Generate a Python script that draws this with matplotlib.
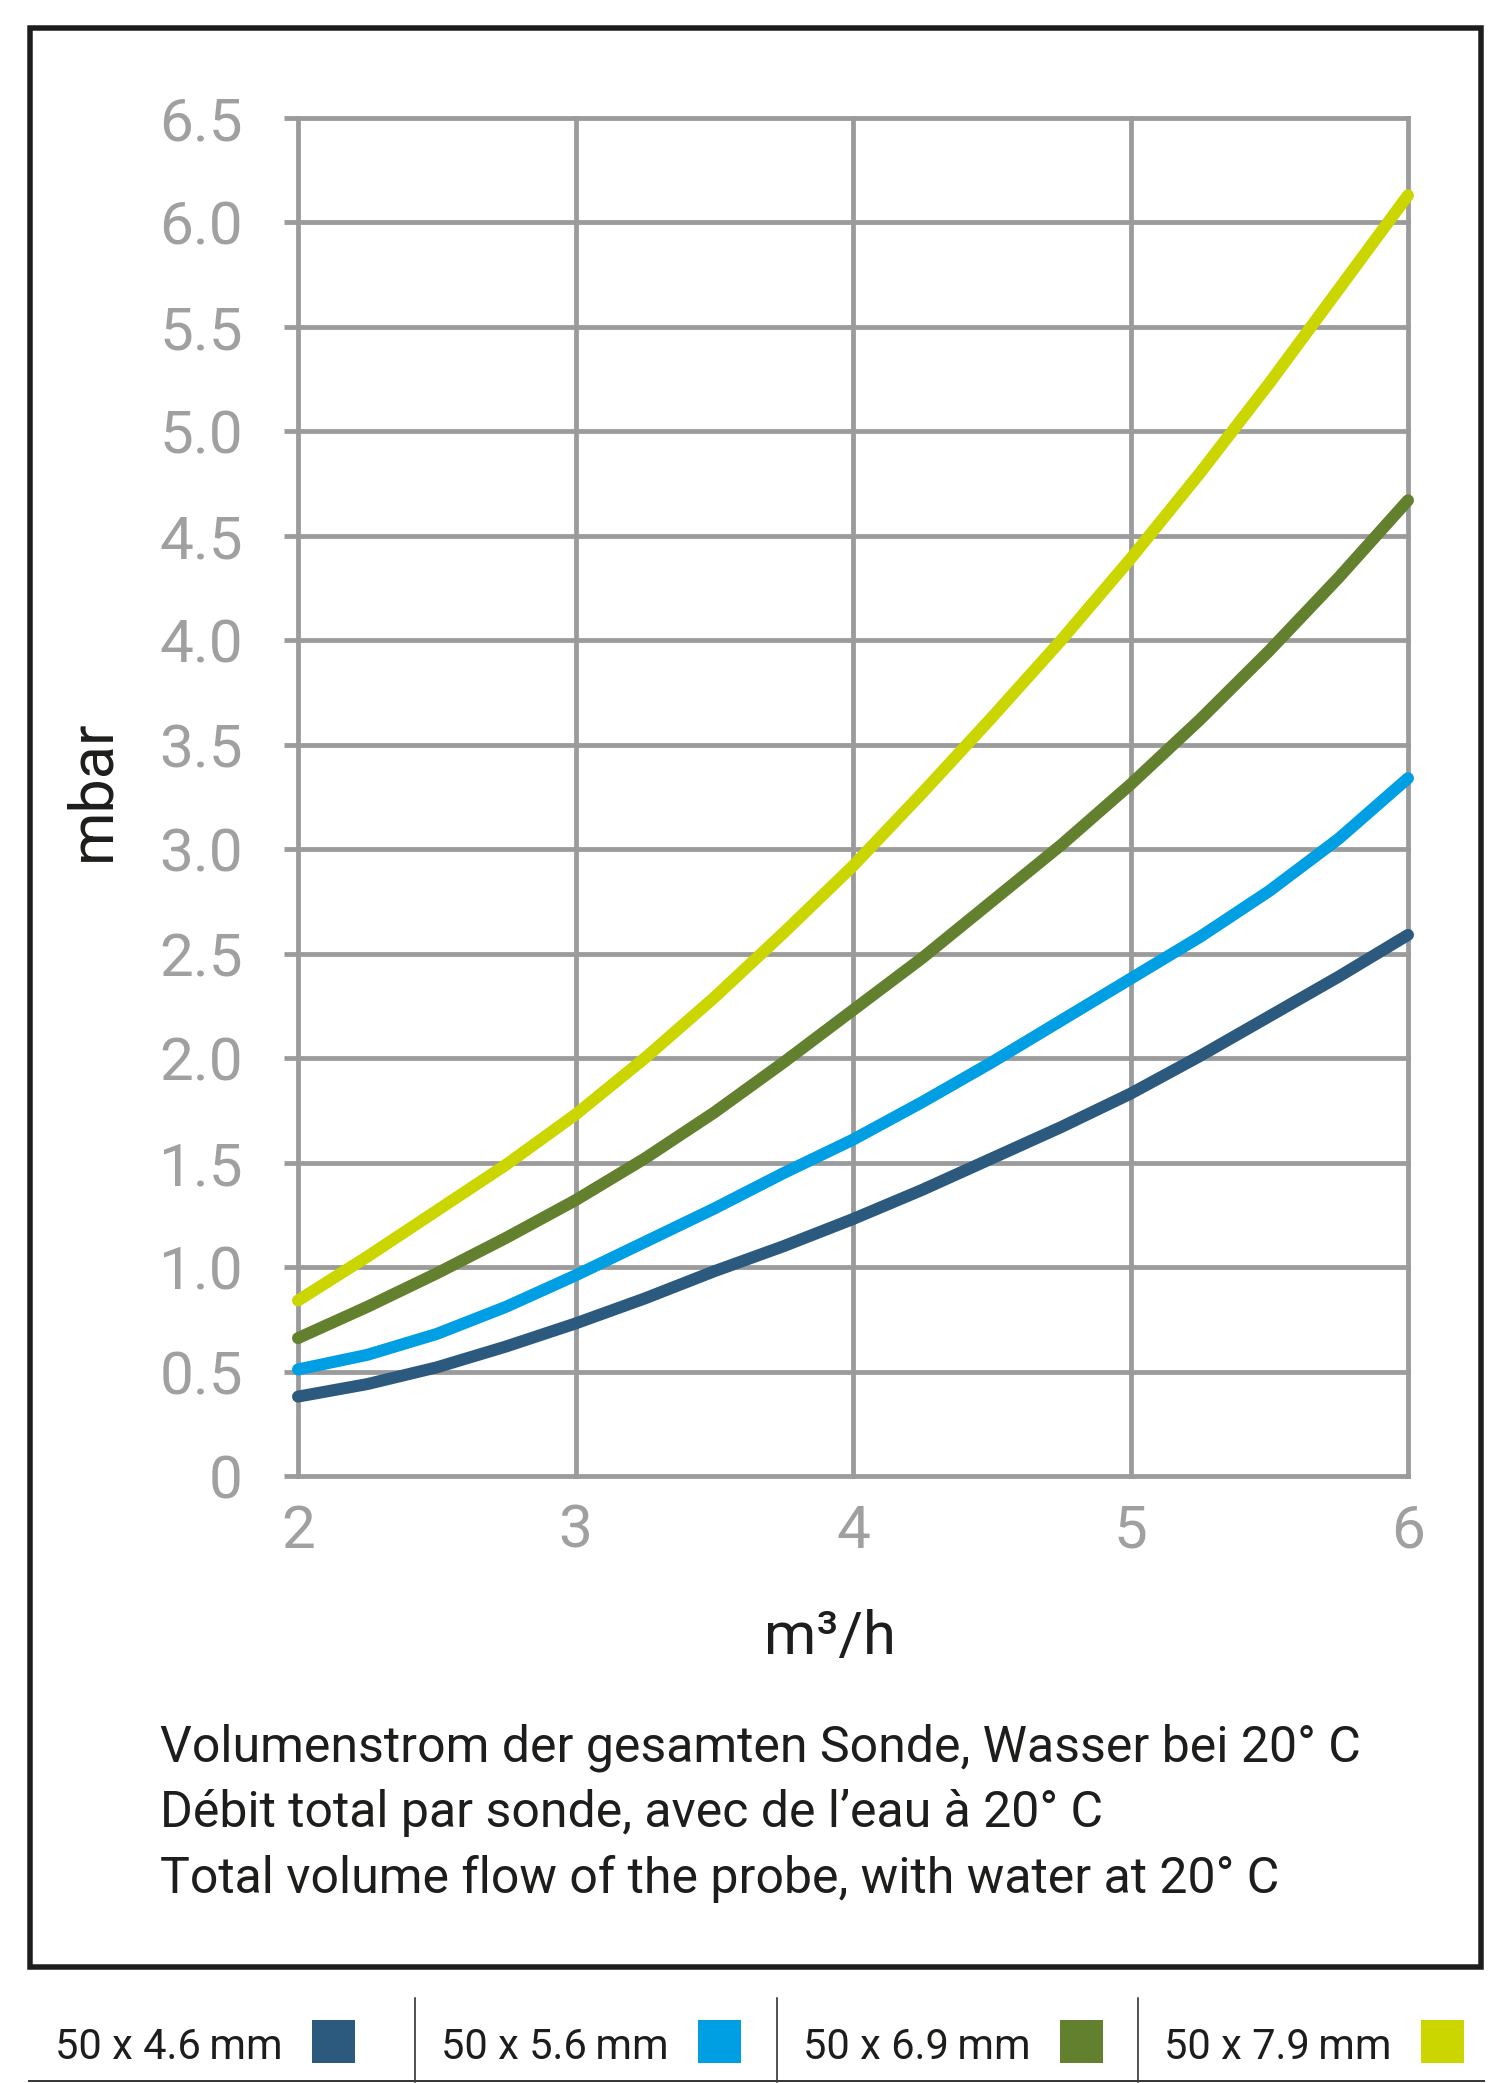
import matplotlib
matplotlib.use("Agg")
import matplotlib.pyplot as plt
from matplotlib.patches import Rectangle
from matplotlib.lines import Line2D

# ---------------- data ----------------
flow = [2.0, 2.25, 2.5, 2.75, 3.0, 3.25, 3.5, 3.75, 4.0,
        4.25, 4.5, 4.75, 5.0, 5.25, 5.5, 5.75, 6.0]
p_50x46 = [0.38, 0.44, 0.52, 0.62, 0.73, 0.85, 0.98, 1.10, 1.23,
           1.37, 1.52, 1.67, 1.83, 2.01, 2.20, 2.39, 2.59]
p_50x56 = [0.51, 0.58, 0.68, 0.81, 0.96, 1.12, 1.28, 1.45, 1.61,
           1.79, 1.98, 2.18, 2.38, 2.58, 2.80, 3.05, 3.34]
p_50x69 = [0.66, 0.81, 0.97, 1.14, 1.32, 1.52, 1.74, 1.98, 2.23,
           2.48, 2.75, 3.02, 3.31, 3.62, 3.95, 4.30, 4.67]
p_50x79 = [0.84, 1.05, 1.27, 1.49, 1.73, 2.00, 2.29, 2.60, 2.92,
           3.27, 3.63, 4.00, 4.39, 4.80, 5.23, 5.68, 6.13]

series_values = [p_50x46, p_50x56, p_50x69, p_50x79]
series_labels = ["50 x 4.6\u2009mm", "50 x 5.6\u2009mm", "50 x 6.9\u2009mm", "50 x 7.9\u2009mm"]
series_colors = ["#2b5a7e", "#009fe3", "#62802e", "#cbd500"]

x_ticks = [2, 3, 4, 5, 6]
x_tick_labels = ["2", "3", "4", "5", "6"]
y_ticks = [0, 0.5, 1.0, 1.5, 2.0, 2.5, 3.0, 3.5, 4.0, 4.5, 5.0, 5.5, 6.0, 6.5]
y_tick_labels = ["0", "0.5", "1.0", "1.5", "2.0", "2.5", "3.0", "3.5",
                 "4.0", "4.5", "5.0", "5.5", "6.0", "6.5"]
y_label = "mbar"
x_label = "m³/h"
caption_lines = [
    "Volumenstrom der gesamten Sonde, Wasser bei 20° C",
    "Débit total par sonde, avec de l’eau à 20° C",
    "Total volume flow of the probe, with water at 20° C",
]

# ---------------- style ----------------
plt.rcParams['font.family'] = ['Roboto', 'DejaVu Sans']
BLACK = "#1d1d1b"
GRID = "#9b9b9b"
TICK = "#a0a0a0"

W, H, DPI = 1512, 2083, 100
PX = 72.0 / DPI  # points per pixel


def fx(x):
    return x / W


def fy(y):
    return 1 - y / H


fig = plt.figure(figsize=(W / DPI, H / DPI), dpi=DPI)
fig.patch.set_facecolor("white")

# plot area (pixel box: x 298..1408, y 118..1476)
ax = fig.add_axes([fx(298), fy(1476), (1408 - 298) / W, (1476 - 118) / H])
ax.set_xlim(2, 6)
ax.set_ylim(0, 6.5)
ax.set_facecolor("none")
for s in ax.spines.values():
    s.set_visible(False)

ax.vlines(x_ticks, 0, 6.5, colors=GRID, linewidth=4.8 * PX, clip_on=False,
          zorder=1, capstyle='projecting')
ax.hlines(y_ticks, 2, 6, colors=GRID, linewidth=4.8 * PX, clip_on=False,
          zorder=1, capstyle='projecting')

ax.set_xticks(x_ticks)
ax.set_xticklabels(x_tick_labels)
ax.set_yticks(y_ticks)
ax.set_yticklabels(y_tick_labels)
ax.tick_params(axis='x', length=0, pad=27 * PX, labelsize=43.5, labelcolor=TICK)
ax.tick_params(axis='y', length=14 * PX, width=4.8 * PX, color=GRID,
               direction='out', pad=41 * PX, labelsize=43.5, labelcolor=TICK)

for vals, col in zip(series_values, series_colors):
    ax.plot(flow, vals, color=col, linewidth=12 * PX, solid_capstyle='round',
            solid_joinstyle='round', clip_on=False, zorder=3)

ax.set_ylabel(y_label, fontsize=44, color=BLACK, va='center')
ax.yaxis.set_label_coords((92 - 298) / 1110, (1476 - 790) / 1358)
ax.set_xlabel(x_label, fontsize=43, color=BLACK, va='baseline')
ax.xaxis.set_label_coords((830 - 298) / 1110, (1476 - 1654) / 1358)

# caption
for line, base in zip(caption_lines, [1762, 1827, 1893]):
    fig.text(fx(160), fy(base), line, ha='left', va='baseline',
             fontsize=36, color=BLACK)

# outer frame
fig.add_artist(Rectangle((fx(29.5), fy(1966.5)), fx(1480.5) - fx(29.5),
                         fy(28) - fy(1966.5), fill=False, linewidth=5.5 * PX,
                         edgecolor=BLACK, transform=fig.transFigure))

# legend row
col_edges = [29, 415, 777, 1138, 1484]
for i, (lab, col) in enumerate(zip(series_labels, series_colors)):
    x0 = col_edges[i]
    fig.text(fx(x0 + 26), fy(2059), lab, ha='left', va='baseline',
             fontsize=30, color=BLACK)
    fig.add_artist(Rectangle((fx(x0 + 283), fy(2063)), 43 / W, 43 / H,
                             facecolor=col, edgecolor='none',
                             transform=fig.transFigure))
for xs in col_edges[1:-1]:
    fig.add_artist(Line2D([fx(xs), fx(xs)], [fy(1998), fy(2082)],
                          color=BLACK, linewidth=1.5 * PX,
                          transform=fig.transFigure))
fig.add_artist(Line2D([fx(29), fx(1484)], [fy(2081), fy(2081)],
                      color="#3a3a3a", linewidth=2 * PX,
                      transform=fig.transFigure))

fig.savefig("out.png", dpi=DPI, facecolor="white")
